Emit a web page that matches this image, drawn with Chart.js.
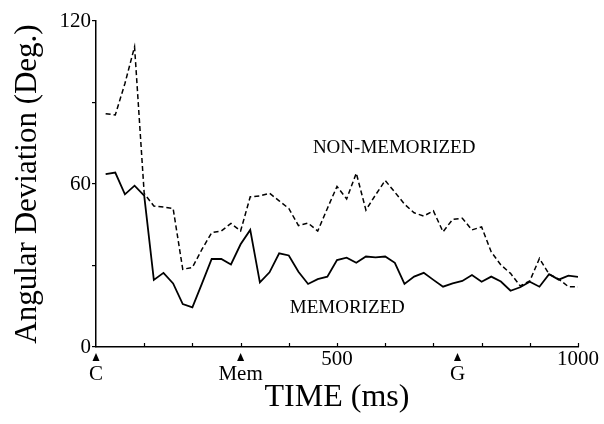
<!DOCTYPE html>
<html>
<head>
<meta charset="utf-8">
<script src="https://cdn.jsdelivr.net/npm/chart.js@4"></script>
<style>
  body { margin: 0; background: #fff; }
  canvas { display: block; }
</style>
</head>
<body>
<canvas id="devChart" width="604" height="424"></canvas>
<script>
// sample times (ms)
const times = [20, 40, 60, 80, 100, 120, 140, 160, 180, 200,
    220, 240, 260, 280, 300, 320, 340, 360, 380, 400,
    420, 440, 460, 480, 500, 520, 540, 560, 580, 600,
    620, 640, 660, 680, 700, 720, 740, 760, 780, 800,
    820, 840, 860, 880, 900, 920, 940, 960, 980, 1000];

const memorized = [63.6, 64.2, 56.2, 59.4, 55.7, 24.7, 27.3, 23.4, 15.8, 14.6,
    23.4, 32.4, 32.4, 30.4, 37.8, 43.1, 23.8, 27.5, 34.5, 33.7,
    27.7, 23.2, 25.0, 25.9, 32.0, 32.9, 31.0, 33.3, 33.0, 33.3,
    31.0, 23.2, 25.9, 27.3, 24.7, 22.2, 23.4, 24.3, 26.5, 24.0,
    25.9, 24.1, 20.7, 22.0, 24.0, 22.2, 26.8, 24.8, 26.3, 25.8];

const nonMemorized = [85.9, 85.4, 97.0, 110.5, 56.5, 51.9, 51.5, 51.0, 28.6, 29.3,
    36.0, 42.1, 42.7, 45.5, 42.7, 55.3, 55.6, 56.6, 53.8, 51.0,
    44.7, 45.6, 42.7, 51.0, 59.1, 54.5, 64.0, 50.4, 56.0, 61.3,
    57.0, 52.6, 49.4, 48.2, 50.1, 42.4, 47.0, 47.4, 43.1, 44.2,
    35.0, 30.2, 27.1, 22.5, 24.3, 32.6, 26.8, 25.0, 22.2, 22.1];

const xLabeled = [500, 1000];
const yLabeled = [0, 60, 120];

// event markers under the time axis
const markerTimes = [0, 300, 750];
const markerLabels = ['C', 'Mem', 'G'];

// curve names, placed in data units
const seriesNames = ['NON-MEMORIZED', 'MEMORIZED'];
const namePos = [[450, 71.4], [402, 12.5]];

const serif = "'Liberation Serif', 'Times New Roman', serif";
Chart.defaults.font.family = serif;
Chart.defaults.color = '#000';

const toPoints = vals => vals.map((v, i) => ({ x: times[i], y: v }));

const extras = {
    id: 'extras',
    afterDraw(chart) {
        const ctx = chart.ctx;
        const xs = chart.scales.x;
        const ys = chart.scales.y;
        const base = ys.getPixelForValue(0);
        ctx.save();
        ctx.strokeStyle = '#000';
        ctx.fillStyle = '#000';
        // inward tick marks on the time axis
        ctx.lineWidth = 1.2;
        xs.ticks.forEach(t => {
            if (t.value === 0) return;
            const px = Math.round(xs.getPixelForValue(t.value)) + 0.5;
            ctx.beginPath();
            ctx.moveTo(px, base);
            ctx.lineTo(px, base - 4);
            ctx.stroke();
        });
        // triangles + event names
        ctx.font = '21px ' + serif;
        ctx.textAlign = 'center';
        ctx.textBaseline = 'alphabetic';
        markerTimes.forEach((t, i) => {
            const px = xs.getPixelForValue(t);
            ctx.beginPath();
            ctx.moveTo(px, base + 6);
            ctx.lineTo(px - 3.5, base + 14);
            ctx.lineTo(px + 3.5, base + 14);
            ctx.closePath();
            ctx.fill();
            ctx.fillText(markerLabels[i], px, 380);
        });
        // curve names
        ctx.font = '19px ' + serif;
        ctx.textAlign = 'left';
        seriesNames.forEach((name, i) => {
            ctx.fillText(name, xs.getPixelForValue(namePos[i][0]), ys.getPixelForValue(namePos[i][1]));
        });
        ctx.restore();
    }
};

new Chart(document.getElementById('devChart').getContext('2d'), {
    type: 'line',
    data: {
        datasets: [{
            label: 'MEMORIZED',
            data: toPoints(memorized),
            borderColor: '#000',
            borderWidth: 1.8,
            pointRadius: 0,
            tension: 0,
            fill: false
        }, {
            label: 'NON-MEMORIZED',
            data: toPoints(nonMemorized),
            borderColor: '#000',
            borderWidth: 1.5,
            borderDash: [5, 3],
            pointRadius: 0,
            tension: 0,
            fill: false
        }]
    },
    options: {
        responsive: false,
        animation: false,
        layout: { padding: { left: 0, top: 21, right: 26, bottom: 0 } },
        plugins: {
            legend: { display: false },
            tooltip: { enabled: false }
        },
        scales: {
            x: {
                type: 'linear',
                min: 0,
                max: 1000,
                afterFit: s => { s.height = 77; },
                grid: { display: false, drawTicks: false },
                border: { color: '#000', width: 1.5 },
                ticks: {
                    stepSize: 100,
                    autoSkip: false,
                    maxRotation: 0,
                    padding: 0,
                    font: { size: 21 },
                    callback: v => xLabeled.includes(v) ? String(v) : ''
                },
                title: {
                    display: true,
                    text: 'TIME (ms)',
                    font: { size: 32 },
                    padding: { top: 0, bottom: 7 }
                }
            },
            y: {
                min: 0,
                max: 120,
                afterFit: s => { s.width = 96; },
                grid: { drawOnChartArea: false, drawTicks: true, tickLength: 4, color: '#000', lineWidth: 1.2 },
                border: { color: '#000', width: 1.5 },
                ticks: {
                    stepSize: 30,
                    padding: 1,
                    font: { size: 21 },
                    callback: v => yLabeled.includes(v) ? String(v) : ''
                },
                title: {
                    display: true,
                    text: 'Angular Deviation (Deg.)',
                    font: { size: 31 },
                    padding: { top: 9, bottom: 0 }
                }
            }
        }
    },
    plugins: [extras]
});
</script>
</body>
</html>
